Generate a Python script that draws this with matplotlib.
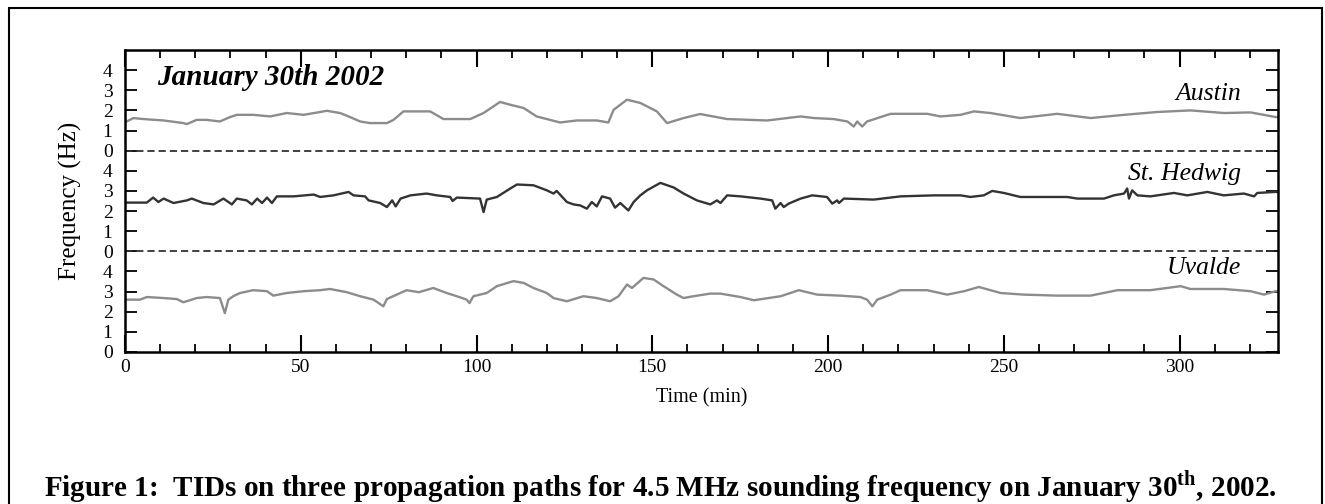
import matplotlib
matplotlib.use("Agg")
import matplotlib.pyplot as plt
from matplotlib.patches import Rectangle
from matplotlib.ticker import MultipleLocator, FixedLocator, FixedFormatter

# ---------------- data ----------------
austin_t = [0, 0.5, 2.4, 5.2, 11, 16.6, 17.6, 20.4, 23.2, 27, 29.9, 31.8, 36.5, 41.3, 46,
            50.8, 55.5, 57.4, 61.2, 64, 66.9, 69.7, 74.5, 76.4, 79.2, 83, 86.8, 90.6, 98.2,
            102, 106.7, 109.6, 113.4, 117.1, 123.8, 128.5, 134.2, 137.5, 139, 142.8, 146.6,
            151.3, 154.2, 158.9, 163.6, 171.3, 182.7, 192.2, 196, 201.6, 205.5, 207.3, 208.3,
            209.7, 211.1, 217.8, 228.2, 232, 237.7, 241.5, 246.2, 254.7, 265.2, 274.7, 284.2,
            293.6, 303.1, 312.6, 320.2, 327.3, 328]
austin_v = [1.45, 1.45, 1.62, 1.57, 1.5, 1.37, 1.32, 1.53, 1.53, 1.45, 1.67, 1.78, 1.78, 1.7, 1.87,
            1.78, 1.92, 1.98, 1.87, 1.67, 1.45, 1.37, 1.37, 1.53, 1.95, 1.95, 1.95, 1.57, 1.57,
            1.87, 2.42, 2.28, 2.12, 1.7, 1.4, 1.5, 1.5, 1.4, 2.03, 2.53, 2.37,
            1.95, 1.37, 1.62, 1.82, 1.57, 1.5, 1.7, 1.62, 1.57, 1.45, 1.2, 1.45,
            1.2, 1.45, 1.83, 1.83, 1.7, 1.78, 1.95, 1.87, 1.62, 1.83, 1.62, 1.78,
            1.92, 2.0, 1.87, 1.9, 1.67, 1.67]

hedwig_t = [0, 0.5, 6.2, 8, 9.5, 11, 13.8, 17.6, 19, 22.3, 25.2, 28, 30.4, 31.8, 34.6, 36.1,
            37.6, 39, 40.4, 41.8, 43.2, 48, 53.7, 55.5, 59.3, 63.6, 65, 68.3, 69.3, 72.6, 74.5,
            76, 77, 78.4, 81.2, 85.8, 88.7, 92.5, 93.2, 94.4, 101, 102, 102.9, 105.8, 109.6,
            111.5, 116.2, 120, 121.9, 122.8, 125.7, 127.6, 129.5, 131.4, 132.8, 134.2, 135.7,
            138, 139.4, 140.9, 143.2, 144.7, 146.6, 148.5, 152.3, 156.1, 158.9, 162.7, 166.5,
            168.4, 169.4, 171.3, 175.1, 180.8, 184.1, 185, 186.5, 187.4, 188.8, 192.2, 195.5,
            199.7, 201.2, 202.6, 203.1, 204.5, 213, 220.6, 230.1, 237.7, 240.5, 244.3, 246.7,
            250, 254.7, 268, 270.9, 278.5, 281.3, 284.2, 285.1, 285.6, 286.5, 288, 291.7,
            298.4, 302.2, 307.9, 312.6, 318.3, 321.2, 322.1, 327.3, 328]
hedwig_v = [2.42, 2.42, 2.42, 2.67, 2.45, 2.62, 2.4, 2.53, 2.62, 2.4, 2.33, 2.62, 2.33, 2.62, 2.53, 2.33,
            2.62, 2.4, 2.67, 2.4, 2.73, 2.73, 2.82, 2.7, 2.78, 2.95, 2.78, 2.73, 2.53, 2.4, 2.2,
            2.53, 2.23, 2.62, 2.78, 2.87, 2.78, 2.7, 2.5, 2.67, 2.62, 1.95, 2.57, 2.7, 3.12,
            3.32, 3.28, 3.03, 2.87, 3.0, 2.45, 2.33, 2.28, 2.12, 2.45, 2.23, 2.73,
            2.62, 2.17, 2.4, 2.03, 2.45, 2.78, 3.03, 3.4, 3.17, 2.87, 2.53, 2.33,
            2.53, 2.4, 2.78, 2.73, 2.62, 2.53, 2.12, 2.4, 2.2, 2.37, 2.62, 2.78,
            2.7, 2.37, 2.53, 2.4, 2.62, 2.57, 2.73, 2.78, 2.78, 2.7, 2.78, 3.0,
            2.9, 2.7, 2.7, 2.62, 2.62, 2.78, 2.87, 3.12, 2.62, 3.03, 2.78, 2.73,
            2.9, 2.78, 2.95, 2.78, 2.87, 2.73, 2.9, 2.95, 2.95]

uvalde_t = [0, 0.5, 4.3, 6.2, 11, 14.7, 16.6, 20.4, 23.2, 27, 28.4, 29.4, 30.8, 32.7, 36.5, 40.4,
            42.2, 46, 50.8, 55.5, 58.3, 63.1, 66.9, 70.7, 73.5, 74.5, 77.3, 80.1, 83.6, 87.7, 91.5,
            94.4, 97.2, 98, 99.1, 102.9, 105.8, 110.5, 113.4, 116.2, 120, 121.9, 125.7, 130.4,
            134.2, 138, 140.4, 142.8, 144.2, 147.5, 150.4, 153.2, 157, 158.9, 161.7, 166.5,
            169.4, 175.1, 178.9, 186.5, 191.7, 196.9, 203.5, 209.2, 211.1, 212.6, 214, 217.8,
            220.6, 228.2, 233.9, 238.7, 242.9, 246.2, 249.1, 255.7, 265.2, 274.7, 282.3, 291.7,
            300.3, 303.1, 312.6, 320.2, 324, 327.3, 328]
uvalde_v = [2.6, 2.6, 2.6, 2.73, 2.68, 2.63, 2.47, 2.68, 2.73, 2.68, 1.93, 2.6, 2.77, 2.93, 3.07, 3.02,
            2.8, 2.93, 3.02, 3.07, 3.13, 2.97, 2.77, 2.6, 2.27, 2.63, 2.85, 3.07, 2.97, 3.18, 2.93,
            2.77, 2.6, 2.43, 2.77, 2.93, 3.27, 3.52, 3.43, 3.18, 2.93, 2.68, 2.52, 2.77,
            2.68, 2.52, 2.77, 3.35, 3.18, 3.68, 3.6, 3.27, 2.85, 2.68, 2.77, 2.9,
            2.9, 2.73, 2.57, 2.77, 3.07, 2.85, 2.8, 2.73, 2.6, 2.27, 2.6, 2.85,
            3.07, 3.07, 2.85, 3.02, 3.23, 3.07, 2.93, 2.85, 2.8, 2.8, 3.07, 3.07,
            3.27, 3.13, 3.13, 3.02, 2.85, 3.02, 3.02]

offsets = {"Austin": 10, "St. Hedwig": 5, "Uvalde": 0}
ytick_pos = list(range(0, 15))
ytick_lab = ["0", "1", "2", "3", "4"] * 3
xlim = (0, 328)

# ---------------- figure ----------------
plt.rcParams['font.family'] = ['Liberation Serif', 'DejaVu Serif']
plt.rcParams['mathtext.fontset'] = 'custom'
plt.rcParams['mathtext.rm'] = 'Liberation Serif'
plt.rcParams['mathtext.bf'] = 'Liberation Serif:bold'
fig = plt.figure(figsize=(13.25, 5.04), dpi=100)
fig.patch.set_facecolor('white')

# outer frame
fig.patches.append(Rectangle((9 / 1325, -0.1), (1322 - 9) / 1325, 1.1 - 8 / 504,
                             transform=fig.transFigure, fill=False, edgecolor='black',
                             linewidth=1.5, zorder=0))

ax = fig.add_axes([125 / 1325, (504 - 352) / 504, (1278 - 125) / 1325, (352 - 50) / 504])
ax.plot(austin_t, [v + offsets["Austin"] for v in austin_v], color='#8c8c8c', lw=1.7)
ax.plot(hedwig_t, [v + offsets["St. Hedwig"] for v in hedwig_v], color='#333333', lw=1.7)
ax.plot(uvalde_t, [v + offsets["Uvalde"] for v in uvalde_v], color='#8c8c8c', lw=1.7)

for y in (5, 10):
    ax.axhline(y, color='#333333', lw=1.3, ls=(0, (4, 2.2)))

ax.set_xlim(*xlim)
ax.set_ylim(0, 15)
ax.xaxis.set_major_locator(MultipleLocator(50))
ax.xaxis.set_minor_locator(MultipleLocator(10))
ax.yaxis.set_major_locator(FixedLocator(ytick_pos))
ax.yaxis.set_major_formatter(FixedFormatter(ytick_lab))

ax.tick_params(axis='x', which='major', direction='in', length=12, width=1.5,
               top=True, bottom=True, labelsize=14, pad=5)
ax.tick_params(axis='x', which='minor', direction='in', length=5.5, width=1.3,
               top=True, bottom=True)
ax.tick_params(axis='y', which='major', direction='in', length=8.5, width=1.3,
               left=True, right=True, labelsize=14, pad=9)
for s in ax.spines.values():
    s.set_linewidth(1.8)

ax.set_xlabel('Time (min)', fontsize=14.5)
ax.xaxis.set_label_coords(0.5, -0.12)
ax.set_ylabel('Frequency (Hz)', fontsize=18)
ax.yaxis.set_label_coords(-0.037, 0.5)

ax.text(0.028, 0.91, 'January 30th 2002', transform=ax.transAxes, fontsize=21,
        fontweight='bold', fontstyle='italic', ha='left', va='center')
ax.text(0.968, 12.82, 'Austin', transform=ax.get_yaxis_transform(), fontsize=18.5,
        fontstyle='italic', ha='right', va='center')
ax.text(0.968, 8.84, 'St. Hedwig', transform=ax.get_yaxis_transform(), fontsize=18.5,
        fontstyle='italic', ha='right', va='center')
ax.text(0.968, 4.17, 'Uvalde', transform=ax.get_yaxis_transform(), fontsize=18.5,
        fontstyle='italic', ha='right', va='center')

fig.text(0.4985, (504 - 487) / 504,
         r'Figure 1:  TIDs on three propagation paths for 4.5 MHz sounding frequency on January 30$^{\mathbf{th}}$, 2002.',
         ha='center', va='center', fontsize=21, fontweight='bold')

fig.savefig('out.png', dpi=100)
